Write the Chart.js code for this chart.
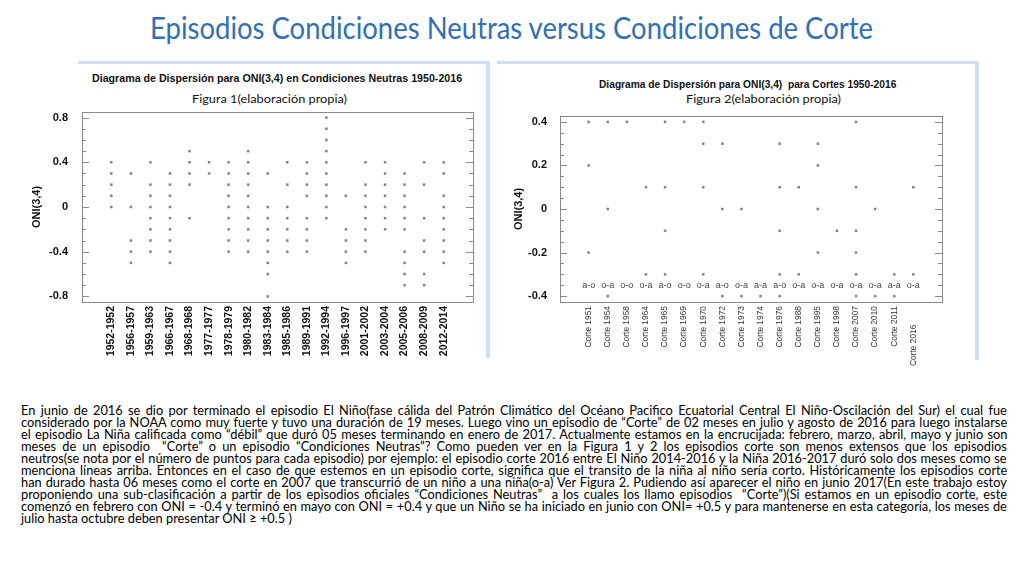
<!DOCTYPE html>
<html><head><meta charset="utf-8">
<script src="https://cdn.jsdelivr.net/npm/chart.js@4.4.1/dist/chart.umd.min.js"></script>
<style>
html,body{margin:0;padding:0;background:#fff;width:1024px;height:576px;overflow:hidden;}
body{position:relative;font-family:Lato,"Liberation Sans",sans-serif;}
.abs{position:absolute;white-space:pre;}
.fit{transform-origin:0 50%;}
#mainTitle{top:9px;font-size:30px;line-height:36px;color:#3170b3;}
.ctitle{font-family:"Liberation Sans",Arial,sans-serif;font-weight:bold;font-size:11px;line-height:14px;color:#111;}
.csub{font-size:12px;line-height:14px;color:#111;}
.stripe{position:absolute;background:#cfdff1;}
.chartbox{position:absolute;}
.pline{position:absolute;left:21px;font-size:12.8px;line-height:13px;color:#000;white-space:pre;transform-origin:0 50%;}
</style>
</head><body>
<div id="mainTitle" class="abs fit" data-left="150" data-w="723">Episodios Condiciones Neutras versus Condiciones de Corte</div>

<div class="stripe" style="left:78px;top:61px;width:412px;height:3px;"></div>
<div class="stripe" style="left:486px;top:61px;width:4px;height:297px;"></div>
<div class="stripe" style="left:497px;top:61px;width:482px;height:3px;"></div>
<div class="stripe" style="left:975px;top:61px;width:4px;height:299px;"></div>

<div class="abs fit ctitle" style="top:71px;" data-left="92" data-w="370">Diagrama de Dispersión para ONI(3,4) en Condiciones Neutras 1950-2016</div>
<div class="abs fit csub" style="top:92px;" data-left="192" data-w="155">Figura 1(elaboración propia)</div>
<div class="abs fit ctitle" style="top:77px;" data-left="599" data-w="297">Diagrama de Dispersión para ONI(3,4)  para Cortes 1950-2016</div>
<div class="abs fit csub" style="top:92px;" data-left="686" data-w="155">Figura 2(elaboración propia)</div>

<div class="chartbox" style="left:20px;top:95px;width:463px;height:275px;"><canvas id="c1" width="463" height="275"></canvas></div>
<div class="chartbox" style="left:497px;top:95px;width:460px;height:285px;"><canvas id="c2" width="460" height="285"></canvas></div>

<div id="para"></div>

<script>
// ---------------- DATA ----------------
const neutralCategories = ['1952-1952','1956-1957','1959-1963','1966-1967','1968-1968','1977-1977','1978-1979','1980-1982','1983-1984','1985-1986','1989-1991','1992-1994','1996-1997','2001-2002','2003-2004','2005-2006','2008-2009','2012-2014'];
const neutralValues = [
  [0.4,0.3,0.2,0.1,0.0],
  [0.3,0.0,-0.3,-0.4,-0.5],
  [0.4,0.2,0.1,0.0,-0.1,-0.2,-0.3,-0.4],
  [0.3,0.2,0.1,0.0,-0.1,-0.2,-0.3,-0.4,-0.5],
  [0.5,0.4,0.3,0.2,-0.1],
  [0.4,0.3],
  [0.4,0.3,0.2,0.1,0.0,-0.1,-0.2,-0.3,-0.4],
  [0.5,0.4,0.3,0.2,0.1,0.0,-0.1,-0.2,-0.3,-0.4],
  [0.3,0.0,-0.1,-0.2,-0.3,-0.4,-0.5,-0.6,-0.8],
  [0.4,0.2,0.0,-0.1,-0.2,-0.3,-0.4],
  [0.4,0.3,0.2,0.1,-0.1,-0.2,-0.3,-0.4],
  [0.8,0.7,0.6,0.5,0.4,0.3,0.2,0.1,0.0,-0.1],
  [0.1,-0.2,-0.3,-0.4,-0.5],
  [0.4,0.2,0.1,0.0,-0.1,-0.2,-0.3,-0.4],
  [0.4,0.3,0.2,0.1,0.0,-0.1,-0.2],
  [0.3,0.2,0.1,0.0,-0.1,-0.2,-0.4,-0.5,-0.6,-0.7],
  [0.4,0.2,-0.1,-0.3,-0.4,-0.6,-0.7],
  [0.4,0.3,0.1,0.0,-0.1,-0.2,-0.3,-0.4,-0.5]
];
const neutralYTicks = [-0.8,-0.4,0,0.4,0.8];

const corteCategories = ['Corte 1951','Corte 1954','Corte 1958','Corte 1964','Corte 1965','Corte 1969','Corte 1970','Corte 1972','Corte 1973','Corte 1974','Corte 1976','Corte 1988','Corte 1995','Corte 1998','Corte 2007','Corte 2010','Corte 2011','Corte 2016'];
const corteValues = [
  [0.4,0.2,-0.2],
  [0.4,0.0,-0.4],
  [0.4],
  [0.1,-0.3],
  [0.4,0.1,-0.1,-0.3],
  [0.4],
  [0.4,0.3,0.1,-0.3],
  [0.3,0.0,-0.4],
  [0.0,-0.4],
  [-0.4],
  [0.3,0.1,-0.1,-0.3,-0.4],
  [0.1,-0.3],
  [0.3,0.2,0.0,-0.2],
  [-0.1],
  [0.4,0.1,-0.1,-0.2,-0.3,-0.4],
  [0.0,-0.4],
  [-0.3,-0.4],
  [0.1,-0.3]
];
const corteCodes = ['a-o','o-a','o-o','o-a','a-o','o-o','o-a','a-o','o-a','a-a','a-o','o-a','o-a','o-a','o-a','o-a','a-a','o-a'];
const corteCodeLevel = -0.35;
const corteYTicks = [-0.4,-0.2,0,0.2,0.4];

const paragraphLines = [
  'En junio de 2016 se dio por terminado el episodio El Niño(fase cálida del Patrón Climático del Océano Pacifico Ecuatorial Central El Niño-Oscilación del Sur) el cual fue',
  'considerado por la NOAA como muy fuerte y tuvo una duración de 19 meses. Luego vino un episodio de “Corte” de 02 meses en julio y agosto de 2016 para luego instalarse',
  'el episodio La Niña calificada como “débil” que duró 05 meses terminando en enero de 2017. Actualmente estamos en la encrucijada: febrero, marzo, abril, mayo y junio son',
  'meses de un episodio  “Corte” o un episodio “Condiciones Neutras”? Como pueden ver en la Figura 1 y 2 los episodios corte son menos extensos que los episodios',
  'neutros(se nota por el número de puntos para cada episodio) por ejemplo: el episodio corte 2016 entre El Niño 2014-2016 y la Niña 2016-2017 duró solo dos meses como se',
  'menciona líneas arriba. Entonces en el caso de que estemos en un episodio corte, significa que el transito de la niña al niño sería corto. Históricamente los episodios corte',
  'han durado hasta 06 meses como el corte en 2007 que transcurrió de un niño a una niña(o-a) Ver Figura 2. Pudiendo así aparecer el niño en junio 2017(En este trabajo estoy',
  'proponiendo una sub-clasificación a partir de los episodios oficiales “Condiciones Neutras”  a los cuales los llamo episodios  “Corte”)(Si estamos en un episodio corte, este',
  'comenzó en febrero con ONI = -0.4 y terminó en mayo con ONI = +0.4 y que un Niño se ha iniciado en junio con ONI= +0.5 y para mantenerse en esta categoría, los meses de',
  'julio hasta octubre deben presentar ONI ≥ +0.5 )'
];

// ---------------- helpers ----------------
function toPoints(values){
  const pts = [];
  values.forEach((col, i) => col.forEach(v => pts.push({x: i + 1, y: v})));
  return pts;
}

const ARIAL = '"Liberation Sans", Arial, sans-serif';
const NARROW = '"Liberation Sans Narrow", "Liberation Sans", Arial, sans-serif';

const framePlugin = {
  id: 'frame',
  afterDatasetsDraw(chart, args, opts) {
    const {ctx, chartArea: a, scales} = chart;
    const y = scales.y;
    ctx.save();
    ctx.strokeStyle = '#8a8a8a';
    ctx.lineWidth = 1;
    ctx.strokeRect(Math.round(a.left) + 0.5, Math.round(a.top) + 0.5, Math.round(a.right - a.left), Math.round(a.bottom - a.top));
    const step = opts.minorStep;
    const n = Math.round((opts.tickMax - opts.tickMin) / step);
    for (let k = 0; k <= n; k++) {
      const v = opts.tickMin + k * step;
      const py = Math.round(y.getPixelForValue(v)) + 0.5;
      const major = opts.majors.some(m => Math.abs(m - v) < 1e-6);
      const len = major ? 7 : 4;
      ctx.beginPath();
      ctx.moveTo(a.left, py); ctx.lineTo(a.left + len, py);
      ctx.moveTo(a.right, py); ctx.lineTo(a.right - len, py);
      ctx.stroke();
    }
    if (opts.codes) {
      ctx.fillStyle = '#444';
      ctx.font = '9px ' + ARIAL;
      ctx.textAlign = 'center';
      ctx.textBaseline = 'middle';
      const py = y.getPixelForValue(opts.codeLevel);
      opts.codes.forEach((c, i) => {
        ctx.fillText(c, scales.x.getPixelForValue(i + 1), py);
      });
    }
    ctx.restore();
  }
};

function makeChart(id, cfg) {
  const chart = new Chart(document.getElementById(id), {
    type: 'scatter',
    data: {
      datasets: [{
        data: toPoints(cfg.values),
        pointStyle: 'rect',
        pointRadius: 1.8,
        pointHoverRadius: 1.8,
        backgroundColor: '#858585',
        borderWidth: 0
      }]
    },
    options: {
      responsive: false,
      animation: false,
      devicePixelRatio: 1,
      layout: {padding: {left: 0, right: cfg.target.right0, top: cfg.target.top, bottom: 0}},
      plugins: {
        legend: {display: false},
        tooltip: {enabled: false},
        frame: {minorStep: cfg.minorStep, tickMin: cfg.tickMin, tickMax: cfg.tickMax, majors: cfg.yTicks, codes: cfg.codes, codeLevel: cfg.codeLevel}
      },
      scales: {
        x: {
          type: 'linear',
          min: -0.5, max: cfg.categories.length + 1.5,
          grid: {display: false},
          border: {display: false},
          afterBuildTicks: s => { s.ticks = cfg.categories.map((c, i) => ({value: i + 1})); },
          afterFit: s => { s.height = cfg.xHeight; },
          ticks: {
            autoSkip: false, minRotation: 90, maxRotation: 90, padding: cfg.xPad,
            color: cfg.xColor,
            font: {family: cfg.xFamily, size: cfg.xSize, weight: cfg.xWeight},
            callback: (v) => cfg.xLabel(cfg.categories[Math.round(v) - 1], Math.round(v) - 1)
          }
        },
        y: {
          min: cfg.yMin, max: cfg.yMax,
          grid: {display: false},
          border: {display: false},
          afterBuildTicks: s => { s.ticks = cfg.yTicks.map(v => ({value: v})); },
          afterFit: s => { s.width = cfg.yWidth; },
          ticks: {
            padding: cfg.yPad, color: '#111',
            font: {family: ARIAL, size: 11, weight: 'bold'},
            callback: v => (Math.abs(v) < 1e-9 ? '0' : v.toFixed(1))
          },
          title: {
            display: true, text: 'ONI(3,4)', color: '#111',
            font: {family: ARIAL, size: 11, weight: 'bold'},
            padding: {top: cfg.titlePad, bottom: 0}
          }
        }
      }
    },
    plugins: [framePlugin]
  });
  // nudge layout padding so the plot area lands where the reference has it
  for (let k = 0; k < 3; k++) {
    const a = chart.chartArea, p = chart.options.layout.padding, t = cfg.target;
    const dt = t.top - a.top, dr = a.right - t.right;
    if (Math.abs(dt) < 0.5 && Math.abs(dr) < 0.5) break;
    p.top += dt; p.right += dr;
    chart.update();
  }
  return chart;
}

makeChart('c1', {
  values: neutralValues, categories: neutralCategories, yTicks: neutralYTicks,
  yMin: -0.85, yMax: 0.85, minorStep: 0.1, tickMin: -0.8, tickMax: 0.8,
  target: {top: 17, right: 453, right0: 10},
  xHeight: 68, yWidth: 62, yPad: 6, titlePad: 10,
  xSize: 10.5, xWeight: 'bold', xColor: '#111', xFamily: ARIAL, xPad: -4,
  xLabel: (c) => c
});

makeChart('c2', {
  values: corteValues, categories: corteCategories, yTicks: corteYTicks,
  yMin: -0.427, yMax: 0.427, minorStep: 0.05, tickMin: -0.4, tickMax: 0.4,
  target: {top: 21, right: 445, right0: 15},
  xHeight: 78, yWidth: 63, yPad: 5, titlePad: 15,
  xSize: 8.4, xWeight: 'normal', xColor: '#333', xFamily: NARROW, xPad: -4,
  codes: corteCodes, codeLevel: corteCodeLevel,
  xLabel: (c, i) => (i === corteCategories.length - 1 ? c + '        ' : c)
});

// ---------------- text layout ----------------
const para = document.getElementById('para');
paragraphLines.forEach((t, i) => {
  const d = document.createElement('div');
  d.className = 'pline';
  d.style.top = (404 + i * 12) + 'px';
  d.textContent = t;
  d.dataset.last = (i === paragraphLines.length - 1) ? '1' : '0';
  para.appendChild(d);
});

function layoutText() {
  document.querySelectorAll('.fit').forEach(el => {
    el.style.left = el.dataset.left + 'px';
    el.style.transform = 'none';
    const w = el.offsetWidth;
    const target = parseFloat(el.dataset.w);
    el.style.transform = 'scaleX(' + (target / w) + ')';
  });
  const target = 986;
  document.querySelectorAll('.pline').forEach(el => {
    el.style.wordSpacing = '0px';
    el.style.transform = 'none';
    if (el.dataset.last === '1') return;
    const w = el.offsetWidth;
    const spaces = (el.textContent.match(/ /g) || []).length;
    if (w <= target) {
      el.style.wordSpacing = ((target - w) / spaces) + 'px';
    } else {
      el.style.transform = 'scaleX(' + (target / w) + ')';
    }
  });
}
layoutText();
if (document.fonts && document.fonts.ready) document.fonts.ready.then(layoutText);
</script>
</body></html>
